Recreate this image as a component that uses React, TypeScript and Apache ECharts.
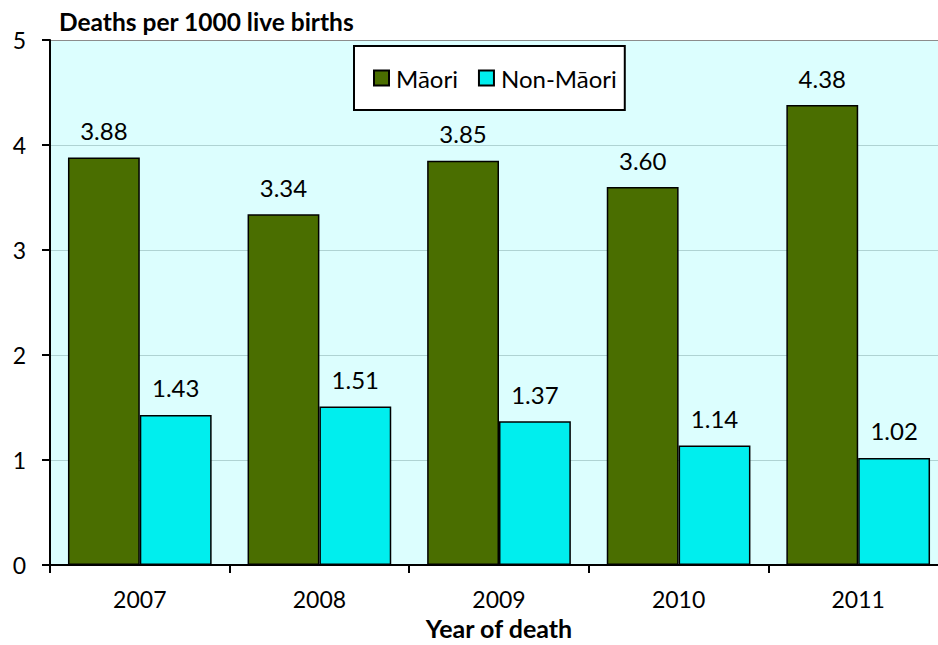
import React, { useEffect, useRef } from "react";
import * as echarts from "echarts";

const years = ["2007", "2008", "2009", "2010", "2011"];
const maori = [3.88, 3.34, 3.85, 3.6, 4.38];
const nonMaori = [1.43, 1.51, 1.37, 1.14, 1.02];
const yTicks = { min: 0, max: 5, interval: 1 };

const FONT = "Lato, 'Open Sans', sans-serif";

export default function App() {
  const ref = useRef<HTMLDivElement>(null);
  useEffect(() => {
    if (!ref.current) return;
    const chart = echarts.init(ref.current, undefined, { renderer: "svg" });
    const labelCfg = {
      show: true,
      position: "top",
      distance: 15,
      color: "#000",
      fontFamily: FONT,
      fontSize: 24,
      formatter: (p: any) => Number(p.value).toFixed(2),
    };
    chart.setOption({
      animation: false,
      textStyle: { fontFamily: FONT },
      title: {
        text: "Deaths per 1000 live births",
        left: 59,
        top: 9,
        padding: 0,
        textStyle: { fontFamily: FONT, fontSize: 24.5, fontWeight: "bold", color: "#000" },
      },
      legend: {
        left: 354,
        top: 46,
        padding: [20, 8, 20, 19],
        itemGap: 20,
        itemWidth: 15,
        itemHeight: 15,
        borderColor: "#000",
        borderWidth: 2,
        backgroundColor: "#fff",
        icon: "rect",
        textStyle: { fontFamily: FONT, fontSize: 24, color: "#000", padding: [0, 0, 0, 2] },
        data: ["Māori", "Non-Māori"],
      },
      grid: {
        left: 50,
        top: 40,
        bottom: 73,
        right: 0,
        show: true,
        backgroundColor: "#DCFEFE",
        borderWidth: 0,
      },
      xAxis: {
        type: "category",
        data: years,
        name: "Year of death",
        nameLocation: "middle",
        nameGap: 48,
        nameTextStyle: { fontFamily: FONT, fontSize: 25, fontWeight: "bold", color: "#000" },
        axisLine: { lineStyle: { color: "#000", width: 2 } },
        axisTick: { show: true, length: 8, lineStyle: { color: "#000", width: 2 } },
        axisLabel: { fontFamily: FONT, fontSize: 23, color: "#000", margin: 22 },
      },
      yAxis: {
        type: "value",
        min: yTicks.min,
        max: yTicks.max,
        interval: yTicks.interval,
        axisLine: { show: true, lineStyle: { color: "#000", width: 2 } },
        axisTick: { show: true, length: 8, lineStyle: { color: "#000", width: 2 } },
        axisLabel: { fontFamily: FONT, fontSize: 23, color: "#000", margin: 24 },
        splitLine: {
          show: true,
          lineStyle: {
            color: ["#AFD3D3", "#AFD3D3", "#AFD3D3", "#AFD3D3", "#AFD3D3", "#8C8C8C"],
            width: 1,
          },
        },
      },
      series: [
        {
          name: "Māori",
          type: "bar",
          data: maori,
          barGap: "0%",
          barCategoryGap: "20%",
          itemStyle: { color: "#4A6E00", borderColor: "#000", borderWidth: 1.5 },
          label: labelCfg,
        },
        {
          name: "Non-Māori",
          type: "bar",
          data: nonMaori,
          barGap: "0%",
          barCategoryGap: "20%",
          itemStyle: { color: "#00EEEE", borderColor: "#000", borderWidth: 1.5 },
          label: labelCfg,
        },
      ],
    });
    return () => chart.dispose();
  }, []);
  return (
    <div
      style={{
        position: "fixed",
        left: 0,
        top: 0,
        width: 938,
        height: 645,
        overflow: "hidden",
        background: "#fff",
      }}
    >
      <div ref={ref} style={{ width: 948, height: 645 }} />
    </div>
  );
}
